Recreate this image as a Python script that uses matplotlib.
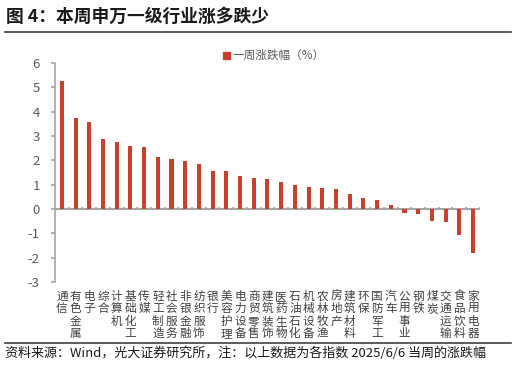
import numpy as np
import matplotlib
matplotlib.use('Agg')
import matplotlib.pyplot as plt
from matplotlib.lines import Line2D

plt.rcParams['font.family'] = ['Noto Sans CJK SC', 'DejaVu Sans']
plt.rcParams['axes.unicode_minus'] = False

# data
industries = ['通信', '有色金属', '电子', '综合', '计算机', '基础化工', '传媒', '轻工制造',
              '社会服务', '非银金融', '纺织服饰', '银行', '美容护理', '电力设备', '商贸零售',
              '建筑装饰', '医药生物', '石油石化', '机械设备', '农林牧渔', '房地产', '建筑材料',
              '环保', '国防军工', '汽车', '公用事业', '钢铁', '煤炭', '交通运输', '食品饮料',
              '家用电器']
weekly_chg = [5.27, 3.73, 3.58, 2.87, 2.76, 2.59, 2.54, 2.16,
              2.05, 1.98, 1.87, 1.55, 1.55, 1.35, 1.27,
              1.22, 1.10, 0.98, 0.92, 0.88, 0.84, 0.63,
              0.44, 0.37, 0.15, -0.14, -0.22, -0.50, -0.52, -1.07,
              -1.79]
yticks = [-3, -2, -1, 0, 1, 2, 3, 4, 5, 6]

bar_col = '#C8412B'
axis_col = '#A6A6A6'
text_col = '#595959'

fig = plt.figure(figsize=(5.16, 3.65), dpi=100)
ax = fig.add_axes([0.1066, 0.227, 0.8234, 0.600])

x = np.arange(len(industries))
ax.bar(x, weekly_chg, width=0.3, color=bar_col, zorder=3)

ax.set_xlim(-0.5, len(industries) - 0.5)
ax.set_ylim(-3, 6)
ax.set_yticks(yticks)
ax.set_yticklabels([str(v) for v in yticks])

# zero line with small ticks between categories
ax.axhline(0, color=axis_col, lw=1.5, zorder=2)
bounds = np.arange(len(industries) + 1) - 0.5
ax.vlines(bounds, 0, 0.1, color=axis_col, lw=1.2, zorder=2)

# vertical category labels at the bottom
ax.set_xticks(x)
ax.set_xticklabels(['\n'.join(s) for s in industries], fontsize=8.4,
                   color='#404040', va='top', linespacing=0.95)
ax.tick_params(axis='x', length=0, pad=5.5)
ax.tick_params(axis='y', colors=axis_col, labelcolor=text_col, labelsize=9.5,
               length=3, width=1.2, pad=8)

for s in ['top', 'right', 'bottom']:
    ax.spines[s].set_visible(False)
ax.spines['left'].set_color(axis_col)
ax.spines['left'].set_linewidth(1.2)

handle = [plt.Rectangle((0, 0), 1, 1, color=bar_col)]
ax.legend(handle, ['一周涨跌幅（%）'], loc='center', bbox_to_anchor=(0.53, 0.847),
          bbox_transform=fig.transFigure, frameon=False, fontsize=8.4,
          handlelength=0.6, handleheight=0.6, handletextpad=0.2, labelcolor=text_col)

# title and footer
fig.text(0.012, 0.955, '图 4：本周申万一级行业涨多跌少', fontsize=12.8, fontweight='bold',
         color='#1a1a1a', va='center', ha='left')
fig.add_artist(Line2D([0.01, 0.99], [0.912, 0.912], color='#404040', lw=1.2))
fig.add_artist(Line2D([0.01, 0.99], [0.060, 0.060], color='#404040', lw=1.2))
fig.text(0.010, 0.031, '资料来源：Wind，光大证券研究所，注：以上数据为各指数 2025/6/6 当周的涨跌幅',
         fontsize=9.4, color='#1a1a1a', va='center', ha='left')

fig.savefig('out.png', dpi=100)
